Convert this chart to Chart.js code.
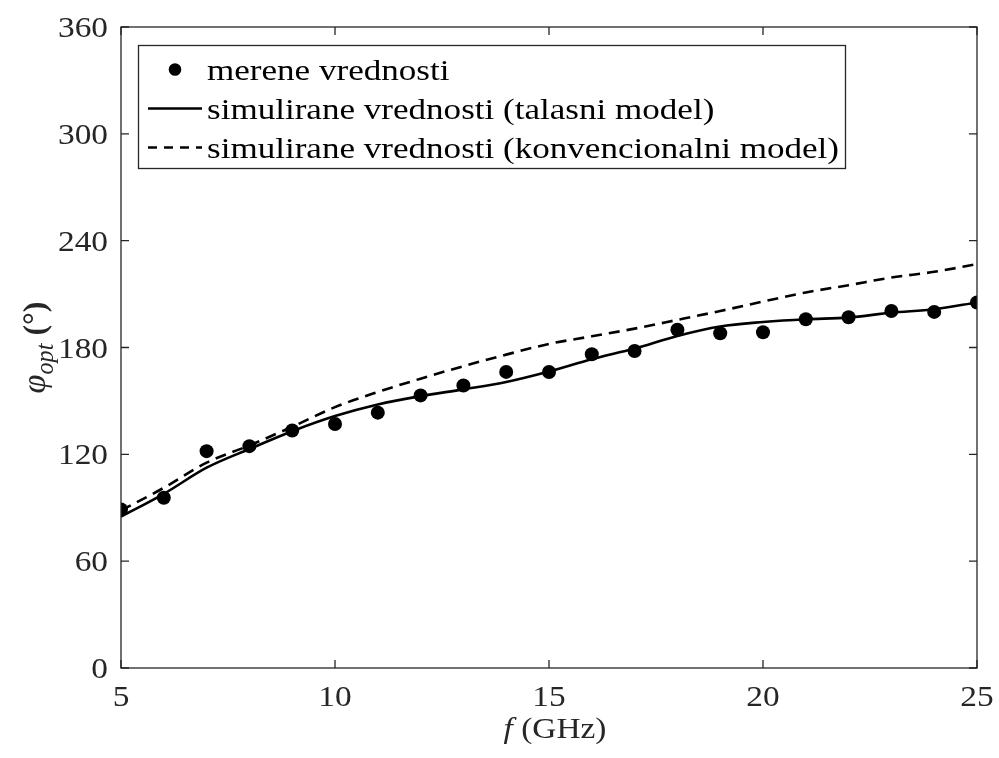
<!DOCTYPE html>
<html>
<head>
<meta charset="utf-8">
<script src="https://cdn.jsdelivr.net/npm/chart.js@4/dist/chart.umd.min.js"></script>
<style>
html,body{margin:0;padding:0;background:#fff;}
#wrap{width:999px;height:758px;position:relative;}
</style>
</head>
<body>
<div id="wrap"><canvas id="c" width="999" height="758"></canvas></div>
<script>
// ---- data ----
const frequencies = [5,6,7,8,9,10,11,12,13,14,15,16,17,18,19,20,21,22,23,24,25];
const measured = [89.0,95.6,121.8,124.6,133.4,137.0,143.4,153.1,158.7,166.3,166.2,176.2,178.0,190.0,188.0,188.6,195.9,197.0,200.5,200.0,205.3];
const waveModel = [85.0,97.8,112.5,123.0,133.0,141.5,148.0,152.7,156.5,160.6,166.5,173.4,179.4,186.5,191.8,194.3,195.9,196.8,199.6,201.5,205.3];
const conventionalModel = [88.5,101.2,115.3,125.0,135.5,146.5,155.0,162.5,169.5,176.0,182.0,186.3,190.6,195.5,200.5,205.8,210.9,215.0,219.3,222.5,226.8];
const xTickValues = [5,10,15,20,25];
const yTickValues = [0,60,120,180,240,300,360];
const legendLabels = ['merene vrednosti','simulirane vrednosti (talasni model)','simulirane vrednosti (konvencionalni model)'];
const xTitleParts = ['f',' (GHz)'];
const yTitleParts = ['\u03C6','opt',' (\u00B0)'];

const FONT = '"Liberation Serif","Times New Roman",serif';
const STRETCH = 1.15;
const AXIS_COLOR = '#262626';

function pts(ys){ return frequencies.map((f,i)=>({x:f,y:ys[i]})); }

const decorPlugin = {
  id:'decor',
  afterDatasetsDraw(chart){
    const ctx = chart.ctx, a = chart.chartArea;
    const xs = chart.scales.x, ys = chart.scales.y;
    ctx.save();
    // frame
    ctx.strokeStyle = AXIS_COLOR; ctx.lineWidth = 1.3;
    ctx.strokeRect(a.left, a.top, a.right-a.left, a.bottom-a.top);
    // inward ticks
    const tl = 8;
    ctx.beginPath();
    xs.ticks.forEach(t=>{
      const px = xs.getPixelForValue(t.value);
      ctx.moveTo(px,a.bottom); ctx.lineTo(px,a.bottom-tl);
      ctx.moveTo(px,a.top); ctx.lineTo(px,a.top+tl);
    });
    ys.ticks.forEach(t=>{
      const py = ys.getPixelForValue(t.value);
      ctx.moveTo(a.left,py); ctx.lineTo(a.left+tl,py);
      ctx.moveTo(a.right,py); ctx.lineTo(a.right-tl,py);
    });
    ctx.stroke();
    // tick labels
    ctx.fillStyle = AXIS_COLOR;
    ctx.font = '29px ' + FONT;
    ctx.textBaseline = 'alphabetic';
    xs.ticks.forEach(t=>{
      const px = xs.getPixelForValue(t.value);
      ctx.save(); ctx.translate(px, 706); ctx.scale(STRETCH,1);
      ctx.textAlign = 'center'; ctx.fillText(String(t.value),0,0); ctx.restore();
    });
    ys.ticks.forEach(t=>{
      const py = ys.getPixelForValue(t.value);
      ctx.save(); ctx.translate(a.left-13, py+10); ctx.scale(STRETCH,1);
      ctx.textAlign = 'right'; ctx.fillText(String(t.value),0,0); ctx.restore();
    });
    // x title
    ctx.save();
    ctx.font = 'italic 29px ' + FONT;
    const w1 = ctx.measureText(xTitleParts[0]).width;
    ctx.font = '29px ' + FONT;
    const w2 = ctx.measureText(xTitleParts[1]).width;
    const cx = (a.left+a.right)/2 + 6;
    ctx.translate(cx, 738); ctx.scale(STRETCH,1);
    const start = -(w1+w2)/2;
    ctx.textAlign = 'left';
    ctx.font = 'italic 29px ' + FONT; ctx.fillText(xTitleParts[0], start, 0);
    ctx.font = '29px ' + FONT; ctx.fillText(xTitleParts[1], start+w1, 0);
    ctx.restore();
    // y title (rotated, centred on the axis)
    ctx.save();
    const cy = (a.top+a.bottom)/2;
    ctx.translate(45, cy); ctx.rotate(-Math.PI/2); ctx.scale(1.1,1.1);
    ctx.font = 'italic 31px ' + FONT; const p1 = ctx.measureText(yTitleParts[0]).width;
    ctx.font = 'italic 22px ' + FONT; const p2 = ctx.measureText(yTitleParts[1]).width;
    ctx.font = 'bold 29px ' + FONT; const p3 = ctx.measureText(yTitleParts[2]).width;
    let sx = -(p1+p2+p3)/2;
    ctx.textAlign = 'left';
    ctx.font = 'italic 31px ' + FONT; ctx.fillText(yTitleParts[0], sx, 0); sx += p1;
    ctx.font = 'italic 22px ' + FONT; ctx.fillText(yTitleParts[1], sx, 7); sx += p2;
    ctx.font = 'bold 29px ' + FONT; ctx.fillText(yTitleParts[2], sx, 0);
    ctx.restore();
    // legend
    const L = 138.5, T = 45.5, R = 845.5, B = 168.5;
    ctx.fillStyle = '#fff'; ctx.fillRect(L,T,R-L,B-T);
    ctx.strokeStyle = AXIS_COLOR; ctx.lineWidth = 1.3; ctx.setLineDash([]);
    ctx.strokeRect(L,T,R-L,B-T);
    const rows = [69.5, 108.5, 147.5];
    const tx = 207, targetW = 632;
    ctx.font = '30px ' + FONT;
    const maxW = Math.max(...legendLabels.map(s=>ctx.measureText(s).width));
    const k = targetW / maxW;
    legendLabels.forEach((lab,i)=>{
      const y = rows[i];
      ctx.strokeStyle = '#000'; ctx.fillStyle = '#000';
      if (i===0){
        ctx.beginPath(); ctx.arc(175, y, 6.3, 0, Math.PI*2); ctx.fill();
      } else {
        ctx.lineWidth = 2.4;
        ctx.setLineDash(i===2 ? [9,7] : []);
        ctx.beginPath(); ctx.moveTo(148,y); ctx.lineTo(202,y); ctx.stroke();
        ctx.setLineDash([]);
      }
      ctx.save(); ctx.translate(tx, y+10); ctx.scale(k,1);
      ctx.fillStyle = '#000'; ctx.textAlign='left'; ctx.font = '30px ' + FONT;
      ctx.fillText(lab,0,0); ctx.restore();
    });
    ctx.restore();
  }
};

function build(){
  new Chart(document.getElementById('c'), {
    type:'scatter',
    data:{
      datasets:[
        { label:legendLabels[0], data:pts(measured), showLine:false,
          pointRadius:7, pointHoverRadius:7, pointBackgroundColor:'#000', pointBorderWidth:0, backgroundColor:'#000' },
        { label:legendLabels[1], data:pts(waveModel), showLine:true, pointRadius:0,
          borderColor:'#000', borderWidth:2.6, cubicInterpolationMode:'monotone', fill:false },
        { label:legendLabels[2], data:pts(conventionalModel), showLine:true, pointRadius:0,
          borderColor:'#000', borderWidth:2.6, borderDash:[11,7], cubicInterpolationMode:'monotone', fill:false }
      ]
    },
    options:{
      responsive:false, animation:false, devicePixelRatio:1,
      layout:{ padding:{ top:27, right:22, left:0, bottom:0 } },
      plugins:{ legend:{display:false}, tooltip:{enabled:false} },
      scales:{
        x:{ type:'linear', min:5, max:25,
            afterBuildTicks: s => { s.ticks = xTickValues.map(v=>({value:v})); },
            ticks:{ display:false }, grid:{ display:false, drawTicks:false }, border:{ display:false },
            afterFit: s => { s.height = 90; } },
        y:{ type:'linear', min:0, max:360,
            afterBuildTicks: s => { s.ticks = yTickValues.map(v=>({value:v})); },
            ticks:{ display:false }, grid:{ display:false, drawTicks:false }, border:{ display:false },
            afterFit: s => { s.width = 121; } }
      }
    },
    plugins:[decorPlugin]
  });
}

Promise.all([
  document.fonts.load('29px "Liberation Serif"'),
  document.fonts.load('italic 29px "Liberation Serif"'),
  document.fonts.load('bold 29px "Liberation Serif"')
]).then(build, build);
</script>
</body>
</html>
